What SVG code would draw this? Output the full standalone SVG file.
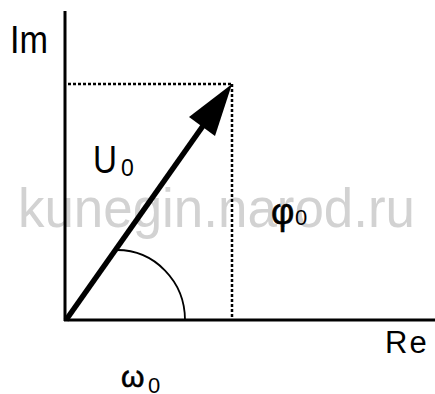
<svg xmlns="http://www.w3.org/2000/svg" width="435" height="394" viewBox="0 0 435 394">
<style>
.t{font-family:"Liberation Sans",Arial,sans-serif;fill:#000}
.wm{font-family:"Liberation Sans",Arial,sans-serif;fill:#d2d2d2}
.axis{stroke:#000;stroke-width:3;fill:none}
.dot{stroke:#000;stroke-width:2.5;stroke-dasharray:3 2;fill:none}
</style>
<rect width="435" height="394" fill="#fff"/>
<text class="wm" x="18" y="227" font-size="56" textLength="397" lengthAdjust="spacingAndGlyphs">kunegin.narod.ru</text>
<g id="connectors">
<line class="axis" x1="65" y1="11" x2="65" y2="321"/>
<line class="axis" x1="64" y1="320" x2="435" y2="320"/>
<line class="dot" x1="68" y1="84" x2="232" y2="84"/>
<line class="dot" x1="232" y1="84" x2="232" y2="320"/>
<line x1="66" y1="320" x2="205" y2="123" stroke="#000" stroke-width="5.5"/>
<polygon points="232,84 215,136 189,117" fill="#000"/>
<path d="M117,250 A68,70 0 0 1 185,320" stroke="#000" stroke-width="1.8" fill="none"/>
</g>
<g id="label-im"><text class="t" x="10" y="53" font-size="38" textLength="38" lengthAdjust="spacingAndGlyphs">Im</text></g>
<g id="label-u0"><text class="t" x="93" y="173" font-size="38" textLength="24" lengthAdjust="spacingAndGlyphs">U</text><text class="t" x="121" y="176" font-size="23">0</text></g>
<g id="label-phi0"><text class="t" x="271" y="224" font-size="36" stroke="#000" stroke-width="0.6">φ</text><text class="t" x="295" y="225" font-size="22">0</text></g>
<g id="label-omega0"><text class="t" x="121" y="387" font-size="30" stroke="#000" stroke-width="0.6">ω</text><text class="t" x="148" y="393" font-size="22">0</text></g>
<g id="label-re"><text class="t" x="385" y="353" font-size="31" letter-spacing="2">Re</text></g>
</svg>
